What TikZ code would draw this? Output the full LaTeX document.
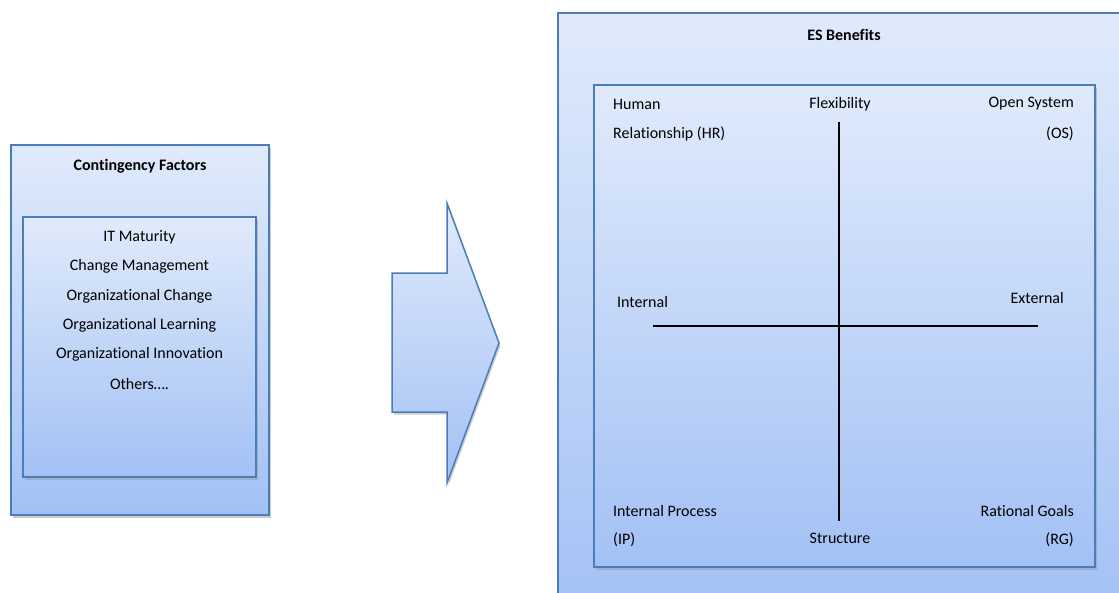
\documentclass[tikz,border=0pt]{standalone}
\usepackage{fontspec}
\setmainfont{Carlito}[Ligatures=NoCommon]
\usetikzlibrary{positioning,shadows,calc}
\definecolor{boxline}{HTML}{4A7EBB}
\definecolor{boxtop}{HTML}{E0EAFB}
\definecolor{boxbot}{HTML}{A3C1F5}

\begin{document}
\begin{tikzpicture}[x=1pt,y=-1pt,font=\fontsize{16}{19}\selectfont,
    panel/.style={rectangle,draw=boxline,line width=1.5pt,inner sep=0pt,
      top color=boxtop,bottom color=boxbot,
      drop shadow={shadow xshift=1.5pt,shadow yshift=-2.5pt,fill=black!40,opacity=.5}},
    item/.style={inner sep=0pt,anchor=center},
    axis/.style={line width=1.4pt,black}]

  \useasboundingbox (0,0) rectangle (1119,592);
  \clip (0,0) rectangle (1119,592);

  % left: contingency factors
  \node[panel,minimum width=258pt,minimum height=370pt] (cf) at (140,330) {};
  \node[panel,minimum width=233pt,minimum height=260pt] (cfin) at (139.5,347) {};
  \node[item,font=\fontsize{16}{19}\selectfont\bfseries] (cftitle) at (140,166) {Contingency Factors};
  \node[item] (f1) at (139.5,237) {IT Maturity};
  \node[item] (f2) at (139.5,266) {Change Management};
  \node[item] (f3) at (139.5,296) {Organizational Change};
  \node[item] (f4) at (139.5,325) {Organizational Learning};
  \node[item] (f5) at (139.5,354) {Organizational Innovation};
  \node[item] (f6) at (139.5,384) {Others….};

  % block arrow
  \draw[boxline,line width=1.5pt,top color=boxtop,bottom color=boxbot,
        drop shadow={shadow xshift=1.5pt,shadow yshift=-2.5pt,fill=black!40,opacity=.5}]
    (392,273) -- (447,273) -- (447,203) -- (499,343) -- (447,483)
    -- (447,412) -- (392,412) -- cycle;

  % right: ES benefits
  \node[panel,minimum width=573pt,minimum height=600pt] (es) at (844.5,313) {};
  \node[panel,minimum width=501pt,minimum height=482pt] (esin) at (844.5,326) {};
  \node[item,font=\fontsize{16}{19}\selectfont\bfseries] (estitle) at (844,35) {ES Benefits};

  \coordinate (flexTop) at (839,122);
  \coordinate (strucBot) at (839,521);
  \coordinate (intLeft) at (653,326);
  \coordinate (extRight) at (1038,326);
  \draw[axis] (flexTop) -- (strucBot);
  \draw[axis] (intLeft) -- (extRight);

  \node[item,anchor=west] (hr1) at (613,104) {Human};
  \node[item,anchor=west] (hr2) at (613,134) {Relationship (HR)};
  \node[item] (flex) at (840,104) {Flexibility};
  \node[item,anchor=east] (os1) at (1074,104) {Open System};
  \node[item,anchor=east] (os2) at (1074,134) {(OS)};
  \node[item,anchor=west] (int) at (617,302) {Internal};
  \node[item,anchor=east] (ext) at (1064,298) {External};
  \node[item,anchor=west] (ip1) at (613,511) {Internal Process};
  \node[item,anchor=west] (ip2) at (613,540) {(IP)};
  \node[item] (struc) at (840,538) {Structure};
  \node[item,anchor=east] (rg1) at (1074,511) {Rational Goals};
  \node[item,anchor=east] (rg2) at (1074,540) {(RG)};
\end{tikzpicture}
\end{document}
